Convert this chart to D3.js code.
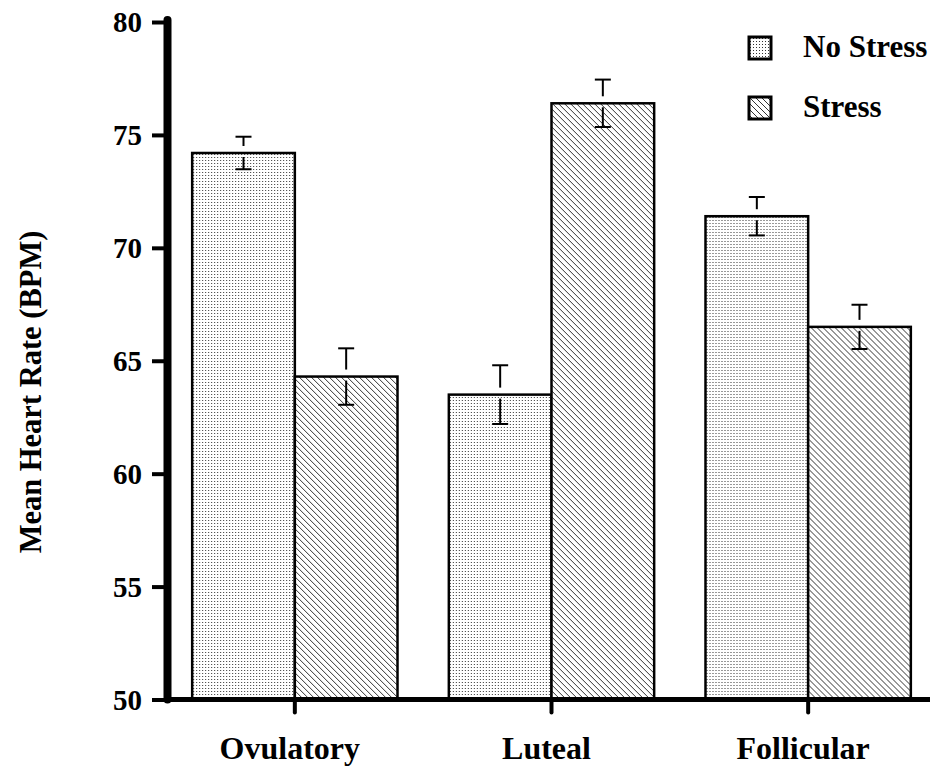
<!DOCTYPE html>
<html>
<head>
<meta charset="utf-8">
<script src="https://cdn.jsdelivr.net/npm/d3@7/dist/d3.min.js"></script>
<style>
  html, body { margin: 0; padding: 0; background: #fff; }
  svg { display: block; }
  text { font-family: "Liberation Serif", "Times New Roman", serif; font-weight: bold; fill: #000; }
</style>
</head>
<body>
<svg id="chart" width="935" height="767"></svg>
<script>
// ---- data ----
const categories = ["Ovulatory", "Luteal", "Follicular"];
const seriesNames = ["No Stress", "Stress"];
const noStress = [74.2, 63.5, 71.4];
const stress = [64.3, 76.4, 66.5];
const noStressErr = [0.72, 1.3, 0.85];
const stressErr = [1.25, 1.05, 0.98];
const yTicks = [50, 55, 60, 65, 70, 75, 80];

const svg = d3.select("#chart");
const defs = svg.append("defs");

// dotted pattern
const dots = defs.append("pattern").attr("id", "dots")
  .attr("patternUnits", "userSpaceOnUse").attr("width", 3).attr("height", 3);
dots.append("rect").attr("width", 3).attr("height", 3).attr("fill", "#fff");
dots.append("rect").attr("x", 1).attr("y", 1).attr("width", 1).attr("height", 1).attr("fill", "#333");

// hatch pattern (top-left to bottom-right)
const hatch = defs.append("pattern").attr("id", "hatch")
  .attr("patternUnits", "userSpaceOnUse").attr("width", 6).attr("height", 6);
hatch.append("rect").attr("width", 6).attr("height", 6).attr("fill", "#fff");
hatch.append("path").attr("d", "M0,0 L6,6 M-3,3 L3,9 M3,-3 L9,3")
  .attr("stroke", "#333").attr("stroke-width", 1);

const fills = ["url(#dots)", "url(#hatch)"];

// scales
const y = d3.scaleLinear().domain([50, 80]).range([699.5, 22]);
const x = d3.scaleBand().domain(categories).range([166.5, 936.5])
  .paddingInner(0.2).paddingOuter(0.1);
const x1 = d3.scaleBand().domain(seriesNames).range([0, x.bandwidth()]);

const table = categories.map((c, i) => ({
  cat: c,
  vals: [
    { s: seriesNames[0], v: noStress[i], e: noStressErr[i] },
    { s: seriesNames[1], v: stress[i], e: stressErr[i] }
  ]
}));

// bars
const groups = svg.append("g").selectAll("g").data(table).join("g")
  .attr("transform", d => `translate(${x(d.cat)},0)`);

groups.selectAll("rect").data(d => d.vals).join("rect")
  .attr("x", d => x1(d.s))
  .attr("y", d => y(d.v))
  .attr("width", x1.bandwidth())
  .attr("height", d => y(50) - y(d.v))
  .attr("fill", (d, i) => fills[i])
  .attr("stroke", "#000")
  .attr("stroke-width", 2.5);

// error bars
const capW = 8;
groups.selectAll("g.err").data(d => d.vals).join("g").attr("class", "err")
  .each(function(d) {
    const g = d3.select(this);
    const cx = x1(d.s) + x1.bandwidth() / 2;
    const top = y(d.v + d.e), bot = y(d.v - d.e), mid = y(d.v);
    g.append("line").attr("x1", cx).attr("x2", cx).attr("y1", top).attr("y2", mid - 7)
      .attr("stroke", "#000").attr("stroke-width", 2);
    g.append("line").attr("x1", cx - capW).attr("x2", cx + capW).attr("y1", top).attr("y2", top)
      .attr("stroke", "#000").attr("stroke-width", 2);
    g.append("line").attr("x1", cx).attr("x2", cx).attr("y1", mid + 4).attr("y2", bot)
      .attr("stroke", "#000").attr("stroke-width", 2);
    g.append("line").attr("x1", cx - capW).attr("x2", cx + capW).attr("y1", bot).attr("y2", bot)
      .attr("stroke", "#000").attr("stroke-width", 2);
  });

// y axis
const yAxis = d3.axisLeft(y).tickValues(yTicks).tickSize(15.5).tickSizeOuter(0).tickPadding(10)
  .tickFormat(d3.format("d"));
const gy = svg.append("g").attr("transform", "translate(167.5,0)").call(yAxis);
gy.select(".domain").remove();
gy.selectAll(".tick line").attr("stroke", "#000").attr("stroke-width", 4);
gy.selectAll(".tick text").attr("font-size", 29).attr("font-family", "Liberation Serif")
  .attr("font-weight", "bold").attr("fill", "#000").attr("dy", "0.34em");
gy.append("line").attr("x1", 0).attr("x2", 0).attr("y1", y(80) - 2).attr("y2", y(50))
  .attr("stroke", "#000").attr("stroke-width", 8).attr("stroke-linecap", "round");

// x axis
const xAxis = d3.axisBottom(x).tickSize(13).tickSizeOuter(0).tickPadding(24);
const gx = svg.append("g").attr("transform", `translate(0,${y(50)})`).call(xAxis);
gx.select(".domain").remove();
gx.selectAll(".tick line").attr("stroke", "#000").attr("stroke-width", 4).attr("stroke-linecap", "round");
gx.selectAll(".tick text").attr("font-size", 32).attr("font-family", "Liberation Serif")
  .attr("font-weight", "bold").attr("fill", "#000").attr("dy", "0.71em").attr("dx", -5);
gx.append("line").attr("x1", 164).attr("x2", 930).attr("y1", 0).attr("y2", 0)
  .attr("stroke", "#000").attr("stroke-width", 5);

// y title
svg.append("text")
  .attr("transform", "translate(41,392) rotate(-90)")
  .attr("text-anchor", "middle")
  .attr("font-size", 30.5)
  .text("Mean Heart Rate (BPM)");

// legend
const legend = svg.append("g").selectAll("g").data(seriesNames).join("g")
  .attr("transform", (d, i) => `translate(749,${37 + i * 60})`);
legend.append("rect").attr("width", 22).attr("height", 22)
  .attr("fill", (d, i) => fills[i]).attr("stroke", "#000").attr("stroke-width", 3);
legend.append("text").attr("x", 54).attr("y", 20).attr("font-size", 31).text(d => d);
</script>
</body>
</html>
